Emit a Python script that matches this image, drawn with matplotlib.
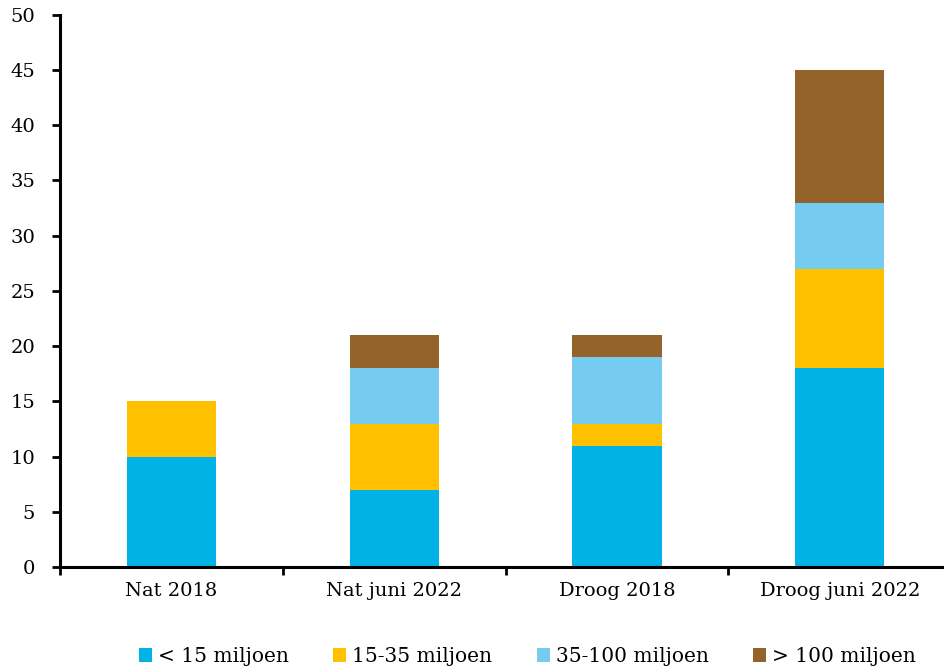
import numpy as np
import matplotlib.pyplot as plt

categories = ['Nat 2018', 'Nat juni 2022', 'Droog 2018', 'Droog juni 2022']
series_names = ['< 15 miljoen', '15-35 miljoen', '35-100 miljoen', '> 100 miljoen']
small = [10, 7, 11, 18]
mid = [5, 6, 2, 9]
large = [0, 5, 6, 6]
xlarge = [0, 3, 2, 12]
colors = ['#00B2E5', '#FFC000', '#76CCF0', '#94622B']

plt.rcParams['font.family'] = ['DejaVu Serif']
plt.rcParams['font.size'] = 14

fig = plt.figure(figsize=(9.45, 6.72), dpi=100)
ax = fig.add_axes([0.0635, 0.156, 0.943, 0.822])

x = np.arange(len(categories))
bottom = np.zeros(len(categories))
for vals, name, col in zip([small, mid, large, xlarge], series_names, colors):
    ax.bar(x, vals, 0.4, bottom=bottom, color=col, label=name)
    bottom += np.array(vals)

ax.set_xlim(-0.5, 3.5)
ax.set_ylim(0, 50)
ax.set_yticks(range(0, 51, 5))
ax.set_xticks(x)
ax.set_xticklabels(categories)
ax.set_xticks(np.arange(-0.5, 4, 1), minor=True)
ax.tick_params(axis='x', which='major', length=0, pad=11)
ax.tick_params(axis='x', which='minor', length=6, width=2)
ax.tick_params(axis='y', length=6, width=2, pad=12)
for s in ['top', 'right']:
    ax.spines[s].set_visible(False)
for s in ['left', 'bottom']:
    ax.spines[s].set_linewidth(2.2)

fig.legend(loc='lower center', bbox_to_anchor=(0.558, -0.018), ncol=4, frameon=False,
           handlelength=0.65, handleheight=0.65, handletextpad=0.3, columnspacing=2.2,
           fontsize=14.5)

fig.savefig('out.png', dpi=100)
